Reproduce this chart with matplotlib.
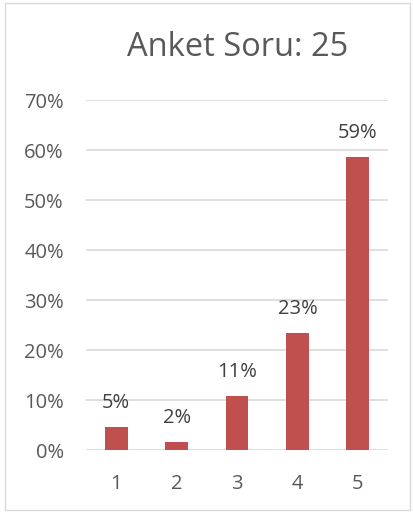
import matplotlib
matplotlib.use("Agg")
import matplotlib.pyplot as plt
from matplotlib.patches import Rectangle
from matplotlib.ticker import PercentFormatter

categories = ["1", "2", "3", "4", "5"]
values = [0.047, 0.017, 0.108, 0.234, 0.587]
labels = ["5%", "2%", "11%", "23%", "59%"]
title = "Anket Soru: 25"

plt.rcParams['font.family'] = ['Open Sans', 'DejaVu Sans']
txt = '#595959'

fig = plt.figure(figsize=(4.14, 5.16), dpi=100)
fig.patches.append(Rectangle((5/414, 1-510/516), 405/414, 507/516, transform=fig.transFigure,
                             fill=False, edgecolor='#D9D9D9', linewidth=1.0))
ax = fig.add_axes([86/414, 1-450/516, 302/414, 350/516])
x = list(range(len(categories)))
bars = ax.bar(x, values, width=0.38, color='#C0504D', zorder=3)
ax.set_xlim(-0.5, 4.5)
ax.set_ylim(0, 0.7)
ax.set_yticks([i/10 for i in range(8)])
ax.yaxis.set_major_formatter(PercentFormatter(1.0, decimals=0))
ax.set_xticks(x)
ax.set_xticklabels(categories)
ax.grid(axis='y', color='#D9D9D9', linewidth=1.2, zorder=0)
for s in ax.spines.values():
    s.set_visible(False)
ax.tick_params(axis='both', length=0, labelsize=14.5, colors=txt)
ax.tick_params(axis='y', pad=16)
ax.tick_params(axis='x', pad=17)
for xi, v, lab in zip(x, values, labels):
    ax.annotate(lab, (xi, v), xytext=(0, 17), textcoords='offset points',
                ha='center', va='center', fontsize=14.5, color='#404040')
fig.text(238/414, 1-48/516, title, ha='center', va='center', fontsize=23.5, color=txt)
fig.savefig('out.png', dpi=100)
